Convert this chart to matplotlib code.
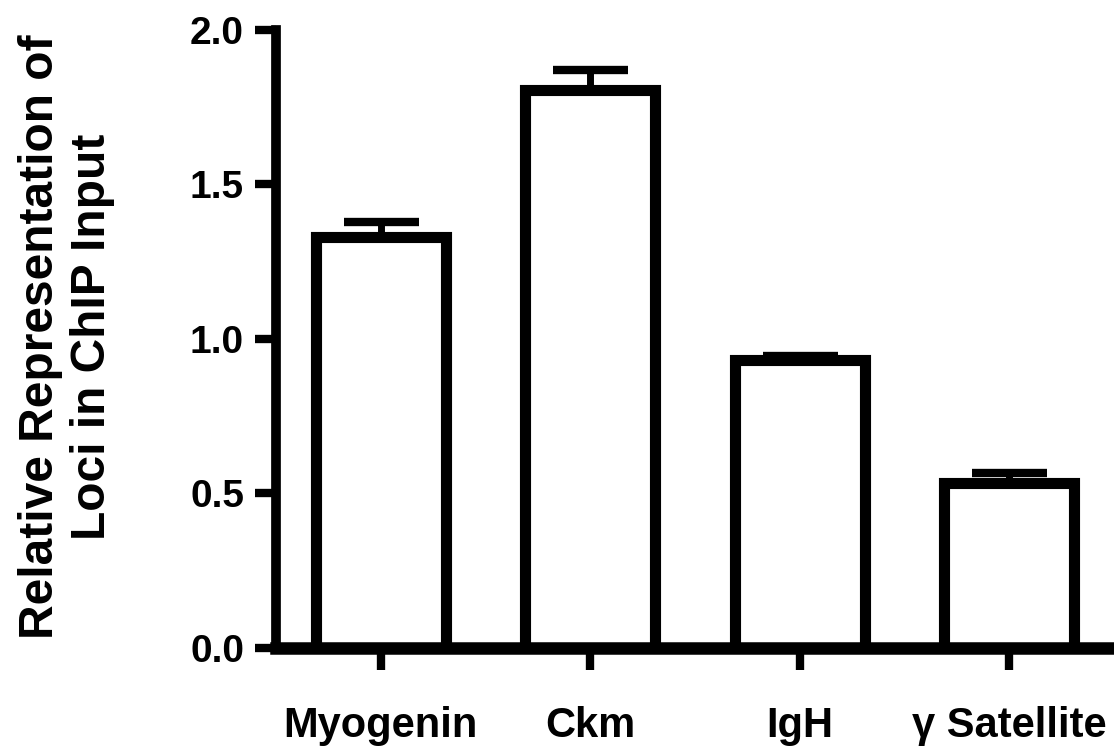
import matplotlib
matplotlib.use("Agg")
import matplotlib.pyplot as plt

categories = ["Myogenin", "Ckm", "IgH", "\u03b3 Satellite"]
values = [1.33, 1.805, 0.932, 0.535]
errors = [0.047, 0.065, 0.012, 0.03]
yticks = [0.0, 0.5, 1.0, 1.5, 2.0]
ylabel = "Relative Representation of\nLoci in ChIP Input"

plt.rcParams['font.family'] = ['Liberation Sans', 'DejaVu Sans']

fig = plt.figure(figsize=(11.14, 7.56), dpi=100)
ax = fig.add_axes([0.2478, 0.1429, 0.7522, 0.8175])

x = list(range(len(categories)))
ax.bar(x, values, width=0.62, color='white', edgecolor='black', linewidth=8, zorder=2)
ax.errorbar(x, values, yerr=[[0]*len(errors), errors], fmt='none', ecolor='black',
            elinewidth=5, capsize=27, capthick=6, zorder=1)

ax.set_xlim(-0.5, 3.5)
ax.set_ylim(0, 2.0)
ax.set_yticks(yticks)
ax.set_yticklabels([f"{t:.1f}" for t in yticks], fontsize=28, fontweight='bold')
ax.set_xticks(x)
ax.set_xticklabels(categories, fontsize=30, fontweight='bold')
for s in ['top', 'right']:
    ax.spines[s].set_visible(False)
ax.spines['left'].set_linewidth(7)
ax.spines['bottom'].set_linewidth(9)
ax.spines['bottom'].set_zorder(3)
ax.tick_params(axis='y', length=15, width=6, pad=8)
ax.tick_params(axis='x', length=16, width=6, pad=26)

fig.text(0.060, 0.554, ylabel, rotation=90, ha='center', va='center',
         fontsize=34.5, fontweight='bold', linespacing=1.2, multialignment='center')

fig.savefig("out.png", dpi=100)
